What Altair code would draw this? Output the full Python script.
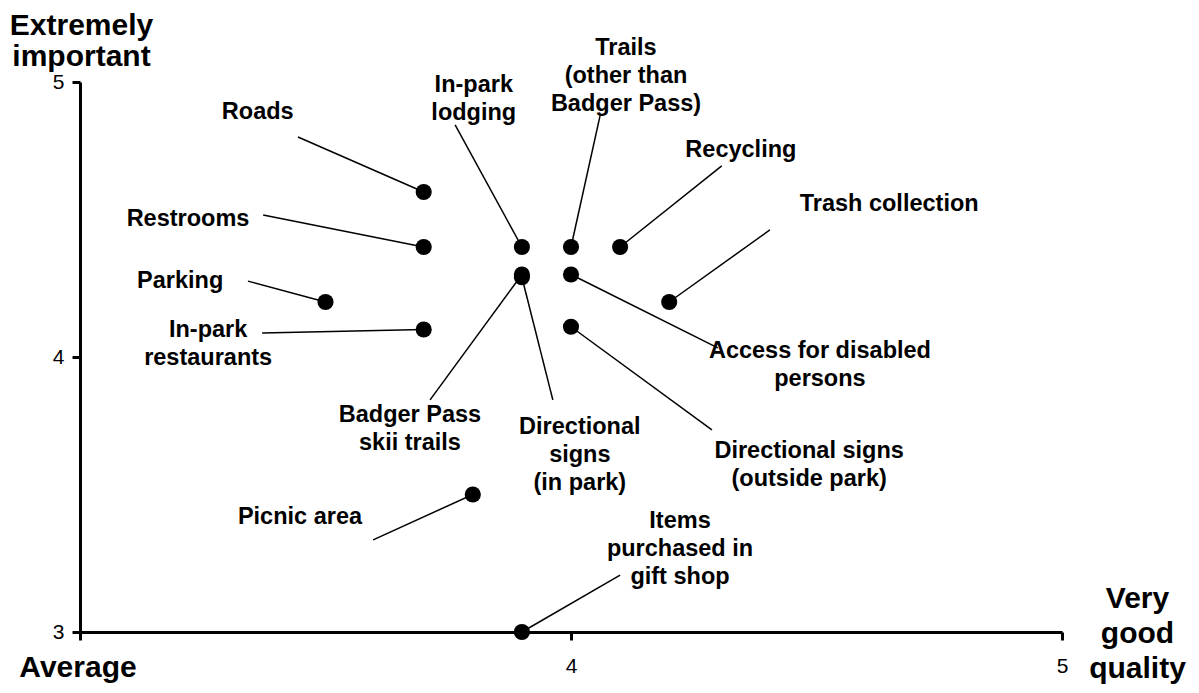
import altair as alt
import pandas as pd

FONT = "Liberation Sans"

names = [
    "Roads", "Restrooms", "Parking", "In-park\nrestaurants", "In-park\nlodging",
    "Badger Pass\nskii trails", "Directional\nsigns\n(in park)",
    "Trails\n(other than\nBadger Pass)", "Recycling", "Trash collection",
    "Access for disabled\npersons", "Directional signs\n(outside park)",
    "Picnic area", "Items\npurchased in\ngift shop",
]
quality = [3.7, 3.7, 3.5, 3.7, 3.9, 3.9, 3.9, 4.0, 4.1, 4.2, 4.0, 4.0, 3.8, 3.9]
importance = [4.6, 4.4, 4.2, 4.1, 4.4, 4.3, 4.29, 4.4, 4.4, 4.2, 4.3, 4.11, 3.5, 3.0]

# label anchor (centre of first text line) and leader-line end, in data units
label_x = [3.362, 3.220, 3.204, 3.261, 3.802, 3.672, 4.018, 4.112, 4.346, 4.648, 4.507, 4.485, 3.448, 4.222]
label_y = [4.891, 4.502, 4.276, 4.098, 4.989, 3.789, 3.745, 5.124, 4.753, 4.556, 4.022, 3.658, 3.418, 3.404]
lead_x = [3.444, 3.373, 3.342, 3.371, 3.764, 3.713, 3.963, 4.059, 4.307, 4.405, 4.299, 4.287, 3.597, 4.100]
lead_y = [4.800, 4.516, 4.276, 4.087, 4.844, 3.844, 3.844, 4.876, 4.695, 4.462, 4.033, 3.735, 3.335, 3.207]

tick_values = [3, 4, 5]

df = pd.DataFrame({
    "name": names, "quality": quality, "importance": importance,
    "lx": label_x, "ly": label_y, "ex": lead_x, "ey": lead_y,
})

xs = alt.Scale(domain=[3, 5], nice=False, zero=False)
ys = alt.Scale(domain=[3, 5], nice=False, zero=False)

x_axis = alt.Axis(
    values=tick_values,
    labelExpr="datum.value < 3.5 ? '' : format(datum.value, '.0f')",
    labelOverlap=False, labelFlush=False,
    domainColor="black", domainWidth=3, tickColor="black", tickWidth=3, tickSize=8,
    grid=False, labelFont=FONT, labelFontSize=21, labelColor="black", labelPadding=15,
    title=["Very", "good", "quality"], titleX=1057, titleY=-25, titleAlign="center",
    titleBaseline="alphabetic", titleFont=FONT, titleFontSize=30, titleFontWeight="bold",
    titleLineHeight=35, titleColor="black",
)
y_axis = alt.Axis(
    values=tick_values, labelExpr="format(datum.value, '.0f')",
    labelOverlap=False, labelFlush=False,
    domainColor="black", domainWidth=3, tickColor="black", tickWidth=3, tickSize=8,
    grid=False, labelFont=FONT, labelFontSize=21, labelColor="black", labelPadding=8,
    title=["Extremely", "important"], titleAngle=0, titleX=1, titleY=-48, titleAlign="center",
    titleBaseline="alphabetic", titleFont=FONT, titleFontSize=30, titleFontWeight="bold",
    titleLineHeight=31, titleColor="black",
)

base = alt.Chart(df)

leaders = base.mark_rule(color="black", strokeWidth=1.5).encode(
    x=alt.X("quality:Q", scale=xs, axis=x_axis),
    y=alt.Y("importance:Q", scale=ys, axis=y_axis),
    x2="ex:Q", y2="ey:Q",
)
points = base.mark_circle(size=260, color="black", opacity=1).encode(
    x=alt.X("quality:Q", scale=xs, axis=x_axis),
    y=alt.Y("importance:Q", scale=ys, axis=y_axis),
)
labels = base.mark_text(
    font=FONT, fontSize=23.5, fontWeight="bold", color="black",
    align="center", baseline="middle", lineBreak="\n", lineHeight=28,
).encode(
    x=alt.X("lx:Q", scale=xs, axis=x_axis),
    y=alt.Y("ly:Q", scale=ys, axis=y_axis),
    text="name:N",
)

chart = alt.layer(leaders, points, labels).properties(
    width=982, height=550,
    autosize=alt.AutoSizeParams(type="none"),
    padding={"left": 72, "top": 74, "right": 129, "bottom": 53},
    title=alt.Title(
        "Average", orient="bottom", anchor="start", frame="group", align="center",
        font=FONT, fontSize=30, fontWeight="bold", color="black", dx=-2, offset=-30,
    ),
).configure_view(stroke=None)

chart.save("out.html", embed_options={"renderer": "svg", "actions": False})
